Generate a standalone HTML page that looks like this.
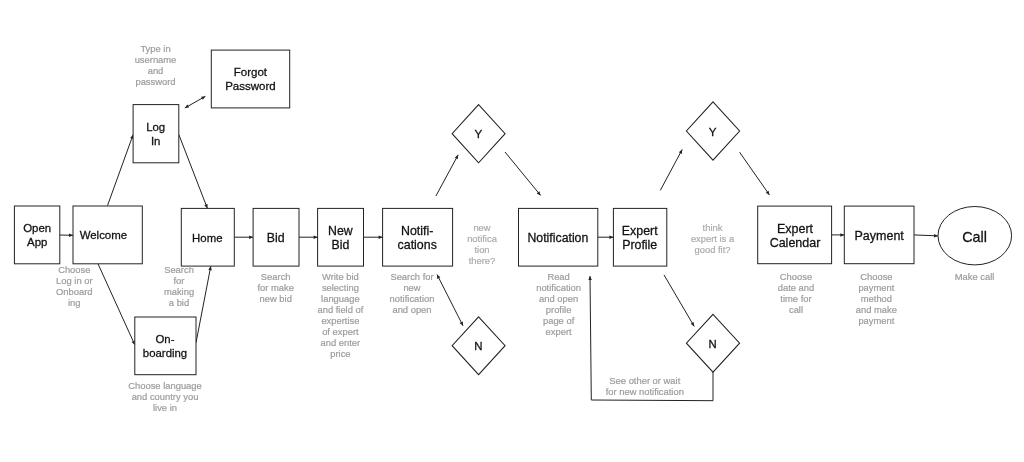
<!DOCTYPE html>
<html lang="en"><head><meta charset="utf-8"><title>User flow</title>
<style>html,body{margin:0;padding:0;background:#fff;}body{width:1024px;height:462px;overflow:hidden;}svg{display:block;filter:blur(0.3px);}.l{font-family:"Liberation Sans",Arial,Helvetica,sans-serif;fill:#111;text-anchor:middle;stroke:#111;stroke-width:0.27px;}.d{font-family:"Liberation Sans",Arial,Helvetica,sans-serif;fill:#9c9c9c;text-anchor:middle;font-size:9.38px;stroke:#9c9c9c;stroke-width:0.2px;}.s{fill:#fff;stroke:#222;}rect.s,ellipse.s{stroke-width:1;}polygon.s{stroke-width:1.05;}.a{fill:none;stroke:#222;stroke-width:1;}.b{stroke-width:0.28px;}.h{fill:#222;stroke:none;}.q{fill:#ababab;stroke:#ababab;}</style></head><body>
<svg width="1024" height="462" viewBox="0 0 1024 462">
<rect x="0" y="0" width="1024" height="462" fill="#ffffff"/>
<g>
<line class="a" x1="59.8" y1="235.0" x2="73.0" y2="235.3"/>
<polygon class="h" points="73.0,235.3 69.0,237.0 69.0,233.5"/>
<line class="a" x1="107.5" y1="205.6" x2="133.1" y2="134.7"/>
<polygon class="h" points="133.1,134.7 133.4,139.1 130.1,137.9"/>
<line class="a" x1="178.8" y1="134.5" x2="207.4" y2="208.4"/>
<polygon class="h" points="207.4,208.4 204.3,205.3 207.6,204.0"/>
<line class="a" x1="184.8" y1="108.0" x2="205.4" y2="96.3"/>
<polygon class="h" points="205.4,96.3 202.8,99.8 201.1,96.8"/>
<polygon class="h" points="184.8,108.0 187.4,104.5 189.1,107.5"/>
<line class="a" x1="97.9" y1="263.6" x2="134.8" y2="344.8"/>
<polygon class="h" points="134.8,344.8 131.6,341.9 134.7,340.4"/>
<line class="a" x1="196.0" y1="342.8" x2="210.8" y2="266.1"/>
<polygon class="h" points="210.8,266.1 211.8,270.4 208.3,269.7"/>
<line class="a" x1="234.4" y1="237.2" x2="253.1" y2="237.2"/>
<polygon class="h" points="253.1,237.2 249.1,238.9 249.1,235.4"/>
<line class="a" x1="299.0" y1="237.2" x2="317.6" y2="237.2"/>
<polygon class="h" points="317.6,237.2 313.6,238.9 313.6,235.4"/>
<line class="a" x1="363.5" y1="237.2" x2="382.6" y2="237.2"/>
<polygon class="h" points="382.6,237.2 378.6,238.9 378.6,235.4"/>
<line class="a" x1="435.9" y1="196.0" x2="458.2" y2="154.8"/>
<polygon class="h" points="458.2,154.8 457.8,159.2 454.8,157.5"/>
<line class="a" x1="505.0" y1="152.0" x2="540.6" y2="195.4"/>
<polygon class="h" points="540.6,195.4 536.7,193.4 539.4,191.2"/>
<line class="a" x1="437.0" y1="274.5" x2="463.0" y2="325.8"/>
<polygon class="h" points="463.0,325.8 459.6,323.0 462.8,321.4"/>
<polygon class="h" points="437.0,274.5 440.4,277.3 437.2,278.9"/>
<line class="a" x1="597.8" y1="237.2" x2="613.4" y2="237.2"/>
<polygon class="h" points="613.4,237.2 609.4,238.9 609.4,235.4"/>
<line class="a" x1="660.3" y1="190.4" x2="682.2" y2="149.5"/>
<polygon class="h" points="682.2,149.5 681.9,153.9 678.8,152.2"/>
<line class="a" x1="739.6" y1="152.2" x2="769.5" y2="195.0"/>
<polygon class="h" points="769.5,195.0 765.8,192.7 768.6,190.7"/>
<line class="a" x1="664.0" y1="274.9" x2="694.2" y2="326.4"/>
<polygon class="h" points="694.2,326.4 690.7,323.8 693.7,322.1"/>
<line class="a" x1="831.6" y1="234.9" x2="844.3" y2="234.9"/>
<polygon class="h" points="844.3,234.9 840.3,236.7 840.3,233.2"/>
<line class="a" x1="914.0" y1="234.9" x2="938.0" y2="235.9"/>
<polygon class="h" points="938.0,235.9 933.9,237.5 934.1,234.0"/>
<polyline class="a" points="713.0,372.0 713.0,400.7 591.3,400.0 590.0,276.0"/>
<polygon class="h" points="590.0,276.0 591.8,280.0 588.3,280.0"/>
</g>
<g>
<rect class="s" x="14.4" y="206.0" width="45.4" height="57.8"/>
<rect class="s" x="73.0" y="206.0" width="69.3" height="57.8"/>
<rect class="s" x="133.1" y="104.6" width="45.7" height="58.2"/>
<rect class="s" x="211.3" y="50.1" width="78.4" height="57.8"/>
<rect class="s" x="134.8" y="317.0" width="61.2" height="57.7"/>
<rect class="s" x="181.3" y="208.4" width="53.0" height="57.7"/>
<rect class="s" x="253.1" y="208.4" width="45.9" height="57.7"/>
<rect class="s" x="317.6" y="208.4" width="45.9" height="57.7"/>
<rect class="s" x="382.6" y="208.4" width="70.0" height="57.7"/>
<rect class="s" x="518.5" y="208.4" width="79.3" height="57.7"/>
<rect class="s" x="613.4" y="208.4" width="53.4" height="57.7"/>
<rect class="s" x="757.7" y="206.1" width="73.9" height="57.6"/>
<rect class="s" x="844.3" y="206.1" width="69.7" height="57.6"/>
<polygon class="s" points="478.6,104.6 505.1,133.7 478.6,162.8 452.1,133.7"/>
<polygon class="s" points="478.6,316.8 505.1,345.7 478.6,374.6 452.1,345.7"/>
<polygon class="s" points="713.0,101.8 739.6,131.0 713.0,160.2 686.4,131.0"/>
<polygon class="s" points="713.0,314.3 739.6,343.2 713.0,372.1 686.4,343.2"/>
<ellipse class="s" cx="974.8" cy="235.7" rx="36.8" ry="29.2"/>
</g>
<g>
<text class="l b" x="37.2" y="231.8" font-size="11.45">Open</text>
<text class="l b" x="37.2" y="245.6" font-size="11.45">App</text>
<text class="l b" x="103.4" y="239.3" font-size="11.45">Welcome</text>
<text class="l b" x="155.7" y="131.1" font-size="11.4">Log</text>
<text class="l b" x="155.7" y="144.6" font-size="11.4">In</text>
<text class="l b" x="250.4" y="76.0" font-size="11.5">Forgot</text>
<text class="l b" x="250.4" y="89.8" font-size="11.5">Password</text>
<text class="l b" x="165.0" y="342.9" font-size="11.4">On-</text>
<text class="l b" x="165.0" y="356.7" font-size="11.4">boarding</text>
<text class="l b" x="207.3" y="241.5" font-size="11.4">Home</text>
<text class="l" x="275.7" y="242.1" font-size="12.3">Bid</text>
<text class="l" x="340.4" y="234.5" font-size="12.3">New</text>
<text class="l" x="340.4" y="249.3" font-size="12.3">Bid</text>
<text class="l" x="417.2" y="234.6" font-size="12.4">Notifi-</text>
<text class="l" x="417.2" y="249.4" font-size="12.4">cations</text>
<text class="l" x="557.9" y="242.1" font-size="12.3">Notification</text>
<text class="l" x="639.7" y="234.6" font-size="12.4">Expert</text>
<text class="l" x="639.7" y="249.4" font-size="12.4">Profile</text>
<text class="l" x="795.0" y="232.6" font-size="12.5">Expert</text>
<text class="l" x="795.0" y="247.2" font-size="12.5">Calendar</text>
<text class="l" x="879.2" y="239.5" font-size="12.5">Payment</text>
<text class="l" x="974.6" y="241.7" font-size="14.4">Call</text>
<text class="l b" x="478.3" y="137.8" font-size="11.6">Y</text>
<text class="l b" x="478.3" y="349.9" font-size="11.4">N</text>
<text class="l b" x="712.6" y="135.9" font-size="11.6">Y</text>
<text class="l b" x="712.5" y="347.8" font-size="11.3">N</text>
<text class="d" x="155.5" y="52.3">Type in</text>
<text class="d" x="155.5" y="63.2">username</text>
<text class="d" x="155.5" y="74.2">and</text>
<text class="d" x="155.5" y="85.1">password</text>
<text class="d" x="74.3" y="273.2">Choose</text>
<text class="d" x="74.3" y="284.1">Log in or</text>
<text class="d" x="74.3" y="295.0">Onboard</text>
<text class="d" x="74.3" y="305.9">ing</text>
<text class="d" x="179.0" y="273.2">Search</text>
<text class="d" x="179.0" y="284.1">for</text>
<text class="d" x="179.0" y="295.0">making</text>
<text class="d" x="179.0" y="305.9">a bid</text>
<text class="d" x="165.0" y="388.6">Choose language</text>
<text class="d" x="165.0" y="399.5">and country you</text>
<text class="d" x="165.0" y="410.5">live in</text>
<text class="d" x="275.7" y="280.1">Search</text>
<text class="d" x="275.7" y="291.1">for make</text>
<text class="d" x="275.7" y="302.2">new bid</text>
<text class="d" x="340.4" y="280.1">Write bid</text>
<text class="d" x="340.4" y="291.1">selecting</text>
<text class="d" x="340.4" y="302.1">language</text>
<text class="d" x="340.4" y="313.1">and field of</text>
<text class="d" x="340.4" y="324.1">expertise</text>
<text class="d" x="340.4" y="335.1">of expert</text>
<text class="d" x="340.4" y="346.1">and enter</text>
<text class="d" x="340.4" y="357.1">price</text>
<text class="d" x="412.0" y="280.1">Search for</text>
<text class="d" x="412.0" y="291.1">new</text>
<text class="d" x="412.0" y="302.1">notification</text>
<text class="d" x="412.0" y="313.1">and open</text>
<text class="d q" x="482.0" y="230.8">new</text>
<text class="d q" x="482.0" y="241.8">notifica</text>
<text class="d q" x="482.0" y="252.9">tion</text>
<text class="d q" x="482.0" y="263.9">there?</text>
<text class="d" x="558.6" y="280.1">Read</text>
<text class="d" x="558.6" y="291.1">notification</text>
<text class="d" x="558.6" y="302.1">and open</text>
<text class="d" x="558.6" y="313.1">profile</text>
<text class="d" x="558.6" y="324.1">page of</text>
<text class="d" x="558.6" y="335.1">expert</text>
<text class="d q" x="712.5" y="230.8">think</text>
<text class="d q" x="712.5" y="241.8">expert is a</text>
<text class="d q" x="712.5" y="252.9">good fit?</text>
<text class="d" x="644.8" y="384.0">See other or wait</text>
<text class="d" x="644.8" y="394.9">for new notification</text>
<text class="d" x="796.0" y="280.1">Choose</text>
<text class="d" x="796.0" y="291.1">date and</text>
<text class="d" x="796.0" y="302.1">time for</text>
<text class="d" x="796.0" y="313.1">call</text>
<text class="d" x="876.4" y="280.1">Choose</text>
<text class="d" x="876.4" y="291.1">payment</text>
<text class="d" x="876.4" y="302.1">method</text>
<text class="d" x="876.4" y="313.1">and make</text>
<text class="d" x="876.4" y="324.1">payment</text>
<text class="d" x="974.6" y="280.1">Make call</text>
</g>
</svg></body></html>
